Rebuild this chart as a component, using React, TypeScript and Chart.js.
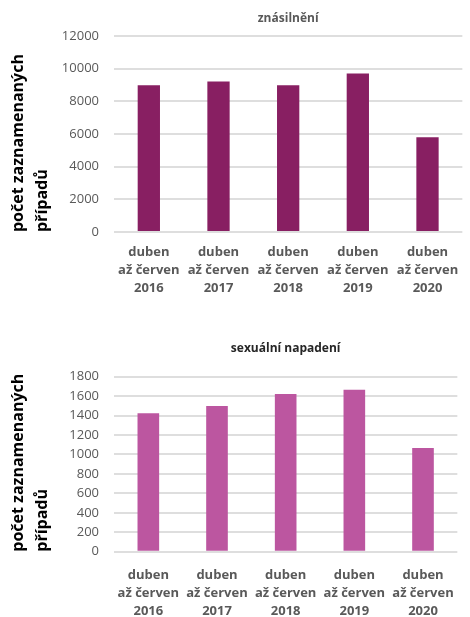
import React, { useEffect, useRef } from "react";
import { Chart, registerables } from "chart.js";

Chart.register(...registerables);

const categories: string[][] = [
  ["duben", "až červen", "2016"],
  ["duben", "až červen", "2017"],
  ["duben", "až červen", "2018"],
  ["duben", "až červen", "2019"],
  ["duben", "až červen", "2020"],
];
const rapeValues = [8980, 9220, 8980, 9710, 5800];
const assaultValues = [1424, 1498, 1622, 1666, 1066];
const rapeTitle = "znásilnění";
const assaultTitle = "sexuální napadení";
const yTitle = ["počet zaznamenaných", "případů"];
const rapeMax = 12000;
const rapeStep = 2000;
const assaultMax = 1800;
const assaultStep = 200;

const FONT = "'Open Sans', 'DejaVu Sans', sans-serif";

type Cfg = {
  values: number[];
  title: string;
  titleColor: string;
  color: string;
  max: number;
  step: number;
  titlePadTop: number;
  titlePadBottom: number;
  xHeight: number;
  xPad: number;
  padRight: number;
  barPct: number;
};

function BarChart({ cfg, height }: { cfg: Cfg; height: number }) {
  const ref = useRef<HTMLCanvasElement | null>(null);
  useEffect(() => {
    if (!ref.current) return;
    const chart = new Chart(ref.current, {
      type: "bar",
      data: {
        labels: categories,
        datasets: [
          {
            data: cfg.values,
            backgroundColor: cfg.color,
            borderWidth: 0,
            categoryPercentage: 1,
            barPercentage: cfg.barPct,
          },
        ],
      },
      options: {
        animation: false,
        responsive: false,
        maintainAspectRatio: false,
        layout: { padding: { left: 0, right: cfg.padRight, top: 0, bottom: 0 } },
        plugins: {
          legend: { display: false },
          tooltip: { enabled: false },
          title: {
            display: true,
            text: cfg.title,
            color: cfg.titleColor,
            fullSize: false,
            font: { family: FONT, size: 12, weight: "bold", lineHeight: 1.2 },
            padding: { top: cfg.titlePadTop, bottom: cfg.titlePadBottom },
          },
        },
        scales: {
          x: {
            grid: { display: false, drawTicks: false },
            border: { display: false },
            ticks: {
              color: "#595959",
              padding: cfg.xPad,
              maxRotation: 0,
              autoSkip: false,
              font: { family: FONT, size: 13, weight: "bold", lineHeight: 1.38 },
            },
            afterFit: (s: any) => {
              s.height = cfg.xHeight;
            },
          },
          y: {
            min: 0,
            max: cfg.max,
            grid: { color: "#dedede", lineWidth: 2, drawTicks: false },
            border: { display: false },
            ticks: {
              stepSize: cfg.step,
              color: "#595959",
              padding: 15,
              font: { family: FONT, size: 13 },
              callback: (v: any) => String(v),
            },
            title: {
              display: true,
              text: yTitle,
              align: "start",
              color: "#000000",
              font: { family: FONT, size: 16, weight: "bold", lineHeight: 1.5 },
              padding: { top: 6, bottom: 0 },
            },
            afterFit: (s: any) => {
              s.width = 114;
            },
          },
        },
      },
    });
    return () => chart.destroy();
  }, [cfg]);
  return <canvas ref={ref} width={470} height={height} style={{ display: "block", width: 470, height }} />;
}

const cfg1: Cfg = {
  values: rapeValues,
  title: rapeTitle,
  titleColor: "#595959",
  color: "#881F62",
  max: rapeMax,
  step: rapeStep,
  titlePadTop: 11,
  titlePadBottom: 10.6,
  xHeight: 68,
  xPad: 11,
  padRight: 0,
  barPct: 0.32,
};

const cfg2: Cfg = {
  values: assaultValues,
  title: assaultTitle,
  titleColor: "#262626",
  color: "#BC56A0",
  max: assaultMax,
  step: assaultStep,
  titlePadTop: 41.8,
  titlePadBottom: 20.5,
  xHeight: 65.3,
  xPad: 15,
  padRight: 2,
  barPct: 0.315,
};

export default function App() {
  return (
    <div style={{ position: "absolute", left: 0, top: 0, width: 470, height: 617, background: "#fff" }}>
      <BarChart cfg={cfg1} height={300} />
      <BarChart cfg={cfg2} height={317} />
    </div>
  );
}
